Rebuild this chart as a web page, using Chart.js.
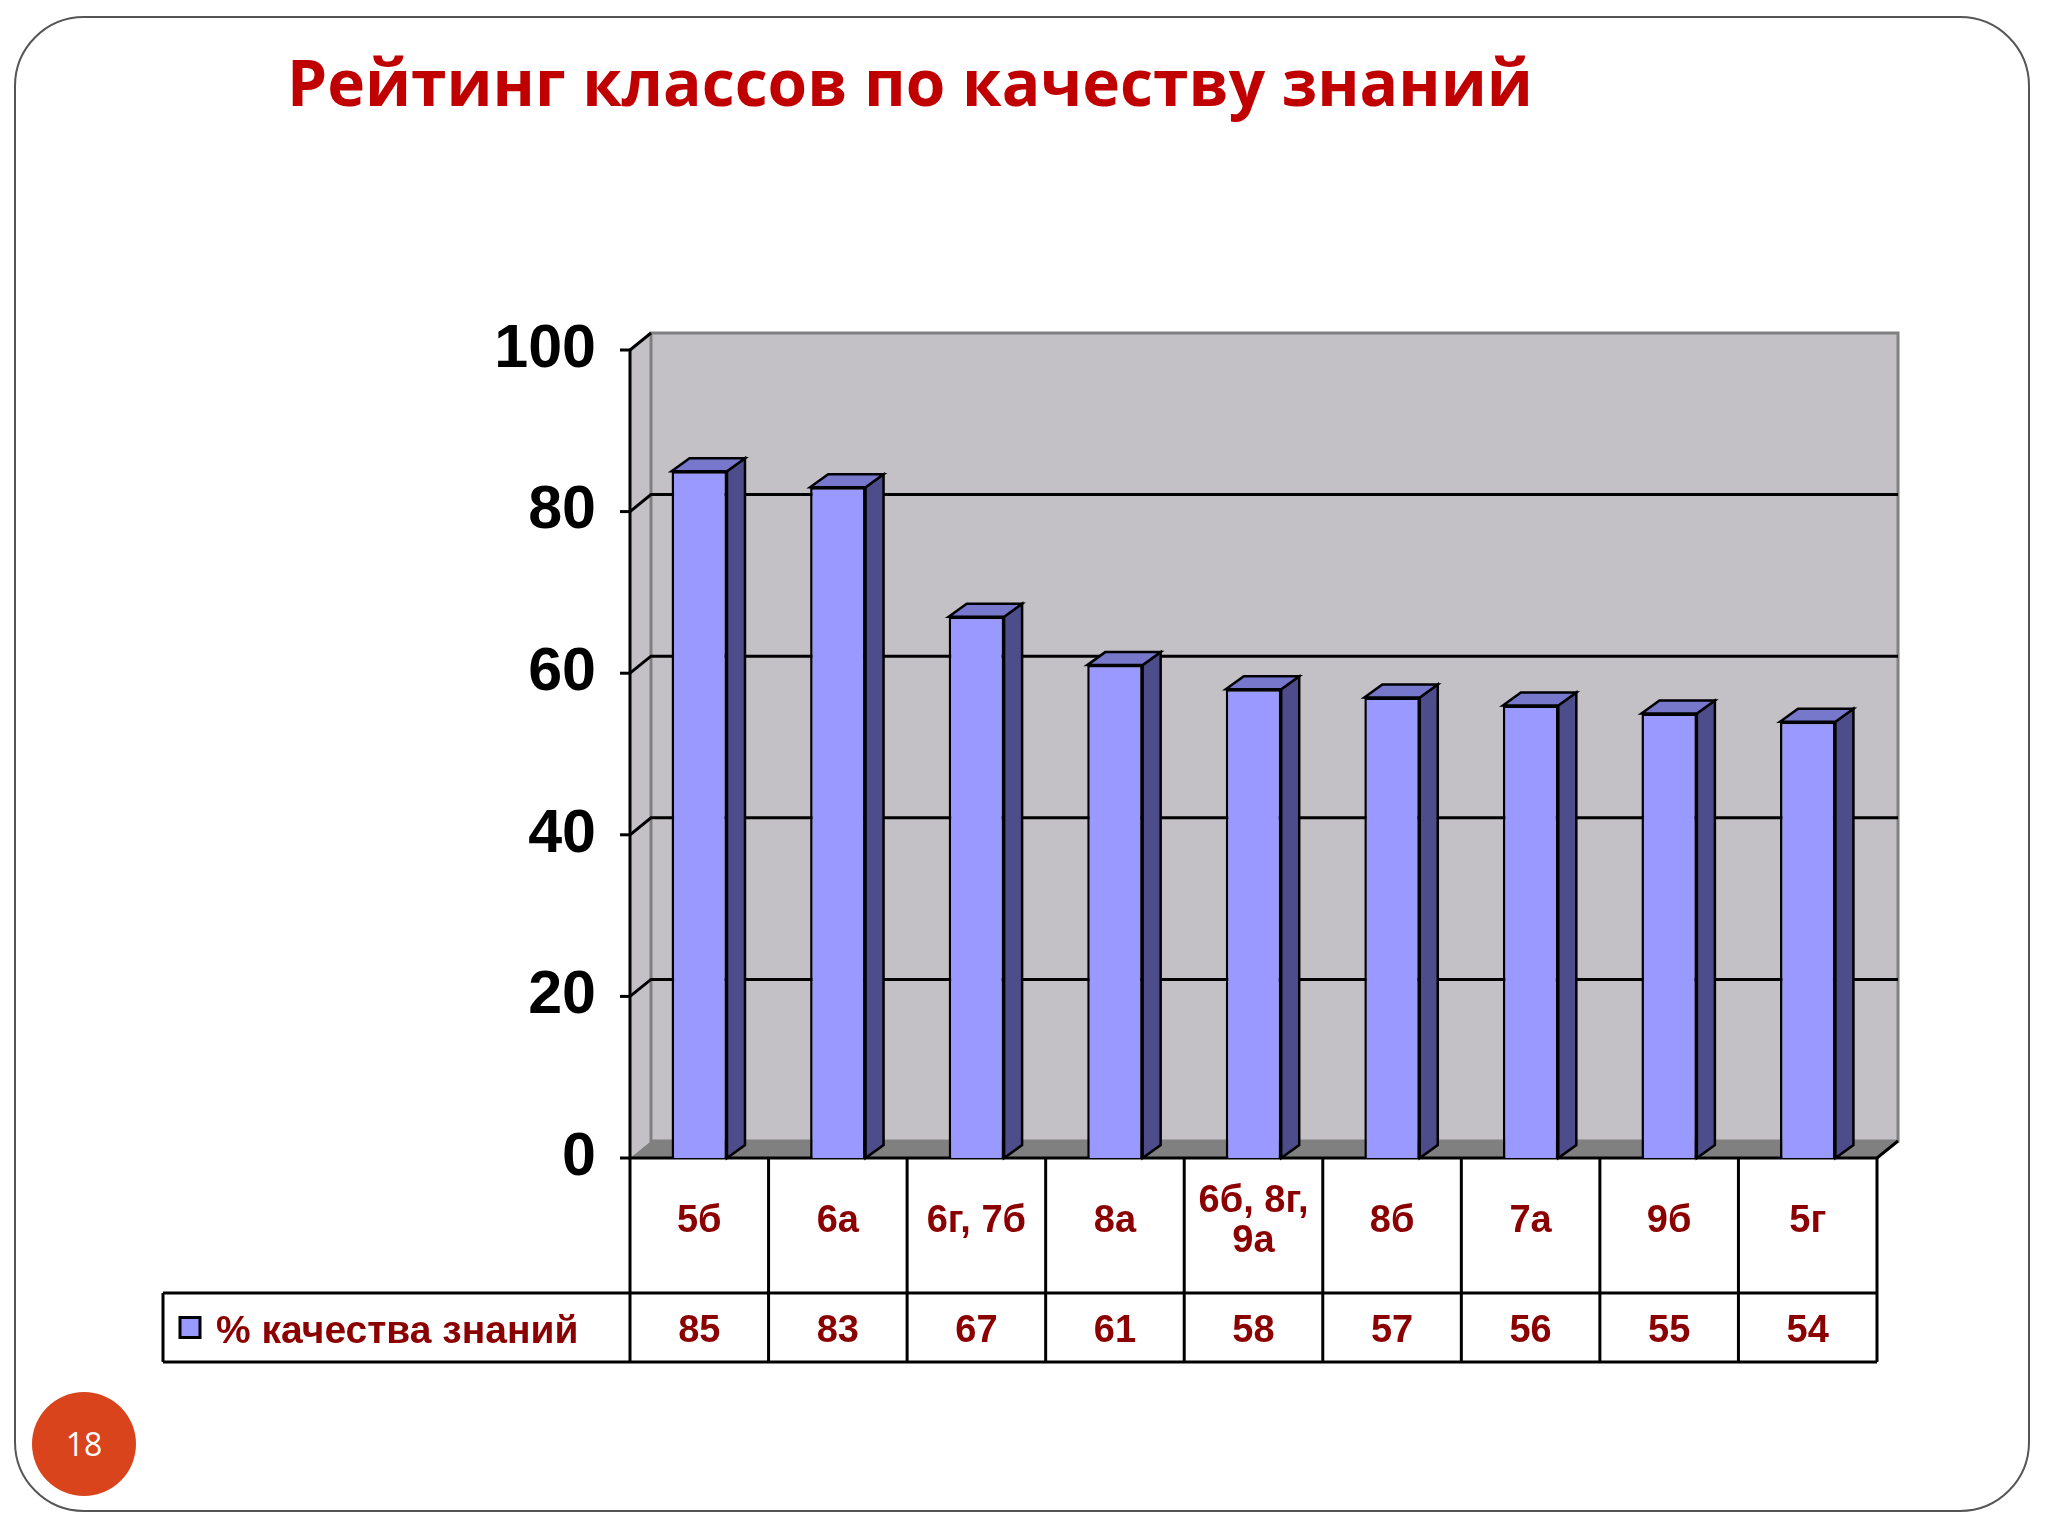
<!DOCTYPE html>
<html><head><meta charset="utf-8">
<script src="https://cdn.jsdelivr.net/npm/chart.js@4"></script>
<style>
body{margin:0;background:#fff;width:2048px;height:1536px;overflow:hidden;position:relative;font-family:"Liberation Sans",Arial,sans-serif}
#frame{position:absolute;left:14px;top:16px;width:2016px;height:1496px;border:2px solid #555;border-radius:70px;box-sizing:border-box}
#title{position:absolute;left:287px;top:38px;font:bold 64px "Open Sans",sans-serif;color:#c00000;white-space:nowrap}
#pg{position:absolute;left:32px;top:1392px;width:104px;height:104px;border-radius:52px;background:#d9441c;color:#fff;font:32px "Open Sans",sans-serif;text-align:center;line-height:104px}
canvas{position:absolute;left:0;top:0}
</style></head><body>
<div id="frame"></div>
<div id="title">Рейтинг классов по качеству знаний</div>
<div id="pg">18</div>
<canvas id="c" width="2048" height="1536"></canvas>
<script>
const categories=[["5б"],["6а"],["6г, 7б"],["8а"],["6б, 8г,","9а"],["8б"],["7а"],["9б"],["5г"]];
const values=[85,83,67,61,58,57,56,55,54];
const seriesName="% качества знаний";
const yTicks=[0,20,40,60,80,100];

const DX=21,DY=-17,BD=18,BU=-13;
const red="#8b0000";
const threeD={
 id:'threeD',
 beforeDatasetsDraw(ch){
  const c=ch.ctx,a=ch.chartArea,y=ch.scales.y;
  const L=a.left,R=a.right,T=a.top,B=a.bottom;
  c.save();
  c.lineWidth=2;c.strokeStyle="#000";
  c.fillStyle="#c3c1c6";
  c.beginPath();c.moveTo(L,T);c.lineTo(L+DX,T+DY);c.lineTo(L+DX,B+DY);c.lineTo(L,B);c.closePath();c.fill();
  c.fillRect(L+DX,T+DY,R-L,B-T);
  c.strokeStyle="#808080";c.lineWidth=3;c.strokeRect(L+DX,T+DY,R-L,B-T);
  c.fillStyle="#808080";
  c.beginPath();c.moveTo(L,B);c.lineTo(L+DX,B+DY);c.lineTo(R+DX,B+DY);c.lineTo(R,B);c.closePath();c.fill();
  c.strokeStyle="#000";c.lineWidth=3;
  yTicks.forEach(v=>{if(v===0||v===100)return;const py=y.getPixelForValue(v);
   c.beginPath();c.moveTo(L,py);c.lineTo(L+DX,py+DY);c.lineTo(R+DX,py+DY);c.stroke();});
  c.beginPath();c.moveTo(L,T);c.lineTo(L,B);c.lineTo(R,B);c.lineTo(R+DX,B+DY);c.stroke();
  c.beginPath();c.moveTo(L,T);c.lineTo(L+DX,T+DY);c.stroke();
  yTicks.forEach(v=>{const py=y.getPixelForValue(v);c.beginPath();c.moveTo(L-10,py);c.lineTo(L,py);c.stroke();});
  c.restore();
 },
 afterDatasetsDraw(ch){
  const c=ch.ctx;c.save();c.lineWidth=2.5;c.strokeStyle="#000";
  ch.getDatasetMeta(0).data.forEach(b=>{
   const w=b.width,x0=b.x-w/2,x1=b.x+w/2,t=b.y,bt=b.base;
   c.fillStyle="#4d4d8c";
   c.beginPath();c.moveTo(x1,t);c.lineTo(x1+BD,t+BU);c.lineTo(x1+BD,bt+BU);c.lineTo(x1,bt);c.closePath();c.fill();c.stroke();
   c.fillStyle="#7777cc";
   c.beginPath();c.moveTo(x0,t);c.lineTo(x0+BD,t+BU);c.lineTo(x1+BD,t+BU);c.lineTo(x1,t);c.closePath();c.fill();c.stroke();
  });
  c.restore();
 },
 afterDraw(ch){
  const c=ch.ctx,a=ch.chartArea,x=ch.scales.x;
  const L=a.left,R=a.right,B=a.bottom,r1=1293,r2=1362,LL=163;
  const cw=(R-L)/categories.length;
  c.save();c.strokeStyle="#000";c.lineWidth=3;
  c.beginPath();
  c.moveTo(L,B);c.lineTo(L,r2);
  for(let i=1;i<=categories.length;i++){c.moveTo(L+i*cw,B);c.lineTo(L+i*cw,r2);}
  c.moveTo(LL,r1);c.lineTo(R,r1);c.moveTo(LL,r2);c.lineTo(R,r2);c.moveTo(LL,r1);c.lineTo(LL,r2);
  c.stroke();
  c.fillStyle=red;c.font='bold 38px "Liberation Sans",Arial';c.textAlign="center";c.textBaseline="middle";
  categories.forEach((lab,i)=>{const cx=x.getPixelForValue(i);
   const mid=(B+r1)/2-4;lab.forEach((s,k)=>c.fillText(s,cx,mid+(k-(lab.length-1)/2)*40));
   c.fillText(String(values[i]),cx,(r1+r2)/2+4);});
  c.fillStyle="#9999ff";c.fillRect(180,(r1+r2)/2-10,20,20);c.lineWidth=3;c.strokeRect(180,(r1+r2)/2-10,20,20);
  c.fillStyle=red;c.textAlign="left";c.font='bold 39px "Liberation Sans",Arial';c.fillText(seriesName,216,(r1+r2)/2+5);
  c.restore();
 }
};
new Chart(document.getElementById('c'),{
 type:'bar',
 data:{labels:categories.map(l=>l.join(' ')),datasets:[{label:seriesName,data:values,backgroundColor:"#9999ff",borderColor:"#000",borderWidth:2.5,barPercentage:0.4,categoryPercentage:1}]},
 options:{responsive:false,devicePixelRatio:1,animation:false,
  layout:{padding:{left:0,top:350,right:171,bottom:378}},
  plugins:{legend:{display:false},tooltip:{enabled:false}},
  scales:{
   x:{display:false},
   y:{min:0,max:100,afterFit(s){s.width=630;},
      afterBuildTicks(s){s.ticks=yTicks.map(v=>({value:v}));},
      grid:{display:false},border:{display:false},
      ticks:{color:"#000",font:{family:'"Liberation Sans",Arial',weight:'bold',size:61},padding:26}}
  }},
 plugins:[threeD]
});
</script></body></html>
